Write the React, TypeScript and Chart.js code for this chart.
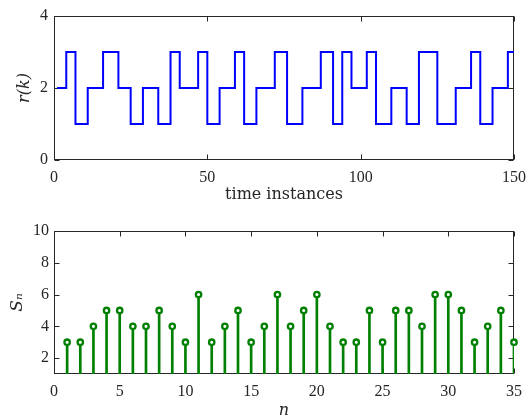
import React, { useEffect, useRef } from "react";
import { Chart, registerables } from "chart.js";

Chart.register(...registerables);

// ---- data: top panel r(k) (stairs) ----
const switchTimes = [1, 4, 7, 11, 16, 21, 25, 29, 34, 38, 41, 47, 50, 54, 59, 62, 66, 72, 76, 81, 87, 91, 94, 97, 102, 105, 110, 115, 119, 125, 131, 136, 139, 143, 148];
const levels = [2, 3, 1, 2, 3, 2, 1, 2, 1, 3, 2, 3, 1, 2, 3, 1, 2, 3, 1, 2, 3, 1, 3, 2, 3, 1, 2, 1, 3, 1, 2, 3, 1, 2, 3];
const endTime = 150;
const rXTicks = [0, 50, 100, 150];
const rYTicks = [0, 2, 4];

// ---- data: bottom panel S_n (stem) ----
const nValues = [1, 2, 3, 4, 5, 6, 7, 8, 9, 10, 11, 12, 13, 14, 15, 16, 17, 18, 19, 20, 21, 22, 23, 24, 25, 26, 27, 28, 29, 30, 31, 32, 33, 34, 35];
const sValues = [3, 3, 4, 5, 5, 4, 4, 5, 4, 3, 6, 3, 4, 5, 3, 4, 6, 4, 5, 6, 4, 3, 3, 5, 3, 5, 5, 4, 6, 6, 5, 3, 4, 5, 3];
const sXTicks = [0, 5, 10, 15, 20, 25, 30, 35];
const sYTicks = [2, 4, 6, 8, 10];

const AXIS = "#262626";
const tickFont = { family: "'Liberation Serif', serif", size: 16 };
const titleFont = { family: "'DejaVu Serif', serif", size: 16 };
const titleItalic = { family: "'DejaVu Serif', serif", size: 16, style: "italic" as const };

const boxTicks = {
  id: "boxTicks",
  beforeDatasetsDraw(chart: any) {
    const { ctx, chartArea: a, scales } = chart;
    const len = 5;
    ctx.save();
    ctx.strokeStyle = AXIS;
    ctx.lineWidth = 1;
    const L = Math.round(a.left) + 0.5;
    const R = Math.round(a.right) - 0.5;
    const T = Math.round(a.top) + 0.5;
    const B = Math.round(a.bottom) - 0.5;
    ctx.beginPath();
    scales.x.ticks.forEach((t: any) => {
      const px = Math.round(scales.x.getPixelForValue(t.value)) + 0.5;
      ctx.moveTo(px, B);
      ctx.lineTo(px, B - len);
      ctx.moveTo(px, T);
      ctx.lineTo(px, T + len);
    });
    scales.y.ticks.forEach((t: any) => {
      const py = Math.round(scales.y.getPixelForValue(t.value)) + 0.5;
      ctx.moveTo(L, py);
      ctx.lineTo(L + len, py);
      ctx.moveTo(R, py);
      ctx.lineTo(R - len, py);
    });
    ctx.stroke();
    ctx.strokeRect(L, T, R - L, B - T);
    ctx.restore();
  },
};

function axisX(min: number, max: number, ticks: number[], title: any, xHeight: number, tickPad: number) {
  return {
    type: "linear" as const,
    min,
    max,
    offset: false,
    grid: { display: false, drawTicks: false },
    border: { display: false },
    afterBuildTicks: (s: any) => {
      s.ticks = ticks.map((v) => ({ value: v }));
    },
    afterFit: (s: any) => {
      s.height = xHeight;
    },
    ticks: { font: tickFont, color: AXIS, padding: tickPad, maxRotation: 0, autoSkip: false },
    title,
  };
}

function axisY(min: number, max: number, ticks: number[], title: any, width: number, tickPad: number) {
  return {
    type: "linear" as const,
    min,
    max,
    beginAtZero: false,
    grid: { display: false, drawTicks: false },
    border: { display: false },
    afterBuildTicks: (s: any) => {
      s.ticks = ticks.map((v) => ({ value: v }));
    },
    afterFit: (s: any) => {
      s.width = width;
    },
    ticks: { font: tickFont, color: AXIS, padding: tickPad },
    title,
  };
}

export default function App() {
  const topRef = useRef<HTMLCanvasElement | null>(null);
  const botRef = useRef<HTMLCanvasElement | null>(null);

  useEffect(() => {
    const rPoints = switchTimes.map((t, i) => ({ x: t, y: levels[i] }));
    rPoints.push({ x: endTime, y: levels[levels.length - 1] });

    const top = new Chart(topRef.current as HTMLCanvasElement, {
      type: "line",
      data: {
        datasets: [
          {
            data: rPoints,
            stepped: "before",
            borderColor: "#0000ff",
            borderWidth: 2,
            pointRadius: 0,
            fill: false,
            clip: false,
          } as any,
        ],
      },
      options: {
        responsive: false,
        animation: false,
        devicePixelRatio: 1,
        layout: { padding: { left: 0, top: 16, right: 46, bottom: 0 } },
        plugins: { legend: { display: false }, tooltip: { enabled: false } },
        scales: {
          x: axisX(0, 150, rXTicks, { display: true, text: "time instances", font: titleFont, color: AXIS, padding: { top: 0, bottom: 6 } }, 50, 8),
          y: axisY(0, 4, rYTicks, { display: true, text: "r(k)", font: titleItalic, color: AXIS, padding: { top: 15, bottom: 0 } }, 54, 6),
        },
      } as any,
      plugins: [boxTicks],
    });

    const sPoints = nValues.map((n, i) => ({ x: n, y: sValues[i] }));
    const bot = new Chart(botRef.current as HTMLCanvasElement, {
      type: "bar",
      data: {
        datasets: [
          {
            type: "bar",
            data: sPoints,
            backgroundColor: "#008000",
            barThickness: 2,
            order: 2,
          } as any,
          {
            type: "line",
            data: sPoints,
            showLine: false,
            pointRadius: 2.7,
            pointBorderWidth: 2.3,
            pointBorderColor: "#008000",
            pointBackgroundColor: "#ffffff",
            order: 1,
            clip: false,
          } as any,
        ],
      },
      options: {
        responsive: false,
        animation: false,
        devicePixelRatio: 1,
        layout: { padding: { left: 0, top: 21, right: 46, bottom: 0 } },
        plugins: { legend: { display: false }, tooltip: { enabled: false } },
        scales: {
          x: axisX(0, 35, sXTicks, { display: true, text: "n", font: titleItalic, color: AXIS, padding: { top: 0, bottom: 5 } }, 51, 8),
          y: axisY(1, 10, sYTicks, { display: true, text: "Sₙ", font: { family: "'DejaVu Serif', serif", size: 17, style: "italic" }, color: AXIS, padding: { top: 7, bottom: 0 } }, 54, 5),
        },
      } as any,
      plugins: [boxTicks],
    });

    return () => {
      top.destroy();
      bot.destroy();
    };
  }, []);

  return (
    <div style={{ position: "absolute", left: 0, top: 0, width: 528, height: 419, overflow: "hidden", background: "#ffffff" }}>
      <canvas ref={topRef} width={560} height={210} style={{ position: "absolute", left: 0, top: 0, width: 560, height: 210 }} />
      <canvas ref={botRef} width={560} height={215} style={{ position: "absolute", left: 0, top: 210, width: 560, height: 215 }} />
    </div>
  );
}
